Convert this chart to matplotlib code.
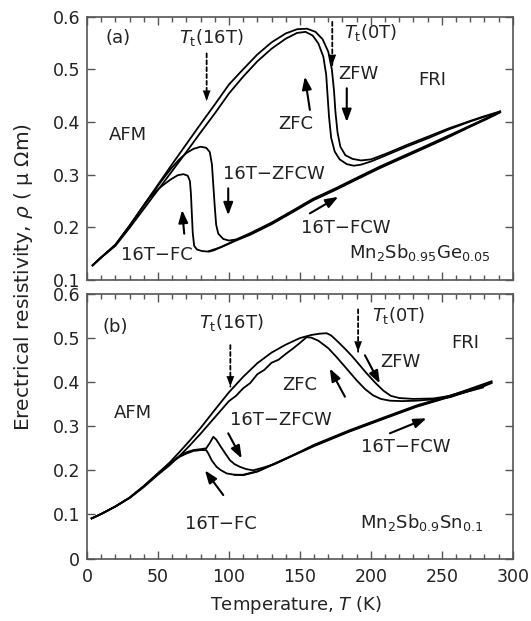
import matplotlib
matplotlib.use("Agg")
import matplotlib.pyplot as plt
from matplotlib.ticker import MultipleLocator

plt.rcParams["font.family"] = ["DejaVu Sans"]
plt.rcParams["mathtext.default"] = "regular"

# ---------------- panel (a): Mn2Sb0.95Ge0.05 ----------------
a_zfw_T = [4, 10, 20, 30, 40, 50, 60, 70, 80, 90, 100, 110, 120, 130, 140, 148, 155, 161, 166,
           170, 172.5, 174, 175, 176.5, 178.5, 182, 187, 193, 200, 210, 225, 241, 255, 270, 280, 291]
a_zfw_r = [.128, .143, .167, .203, .242, .281, .320, .358, .396, .433, .471, .500, .528, .551, .568,
           .576, .577, .571, .557, .533, .50, .46, .42, .38, .353, .337, .330, .327, .329, .339,
           .356, .373, .388, .402, .411, .420]

a_zfc_T = [4, 10, 20, 30, 40, 50, 60, 70, 80, 90, 100, 110, 120, 130, 140, 148, 154, 159, 163,
           166.5, 168.5, 169.5, 170.5, 172, 174.5, 178, 183, 188, 193, 200, 210, 225, 241, 255, 270, 280, 291]
a_zfc_r = [.128, .143, .165, .199, .235, .271, .307, .343, .380, .416, .454, .486, .515, .539, .558,
           .569, .571, .564, .549, .524, .49, .45, .41, .37, .344, .329, .320, .317, .319, .325,
           .336, .353, .370, .386, .401, .410, .419]

a_fc_T = [291, 282, 270, 253, 235, 220, 206, 190, 175, 159, 145, 130, 115, 105, 97, 90, 86, 81,
          77.5, 75.5, 74.5, 73.8, 73.2, 72.5, 71, 68, 64, 59, 54, 49, 44, 40, 35, 30, 20, 10, 4]
a_fc_r = [.419, .407, .392, .370, .348, .330, .313, .292, .272, .252, .230, .207, .187, .176, .166,
          .157, .154, .155, .158, .165, .19, .23, .265, .288, .298, .301, .299, .291, .281, .270,
          .256, .242, .222, .203, .166, .143, .128]

a_zfcw_T = [4, 10, 20, 30, 40, 50, 55, 60, 65, 70, 75, 80, 84, 86.5, 88, 89, 90, 91, 92.5, 96, 100,
            105, 115, 130, 145, 159, 175, 190, 206, 220, 235, 253, 270, 282, 291]
a_zfcw_r = [.128, .143, .167, .203, .241, .279, .297, .314, .329, .341, .349, .353, .351, .343, .32,
            .28, .24, .205, .188, .178, .175, .177, .189, .209, .232, .254, .274, .294, .315, .332,
            .350, .372, .393, .408, .420]

a_fcw_T = [86, 95, 105, 115, 130, 145, 159, 175, 190, 206, 220, 235, 253, 270, 282, 291]
a_fcw_r = [.155, .163, .175, .186, .206, .229, .251, .271, .291, .312, .329, .347, .369, .391, .406, .418]

# ---------------- panel (b): Mn2Sb0.9Sn0.1 ----------------
b_zfw_T = [3.3, 10, 20, 30, 40, 50, 58, 65, 72, 80, 90, 100, 110, 120, 130, 140, 150, 158, 164,
           168.8, 172, 177, 182, 187, 192, 197, 203, 208.7, 214, 220, 230, 244, 256, 270, 285]
b_zfw_r = [.091, .101, .118, .138, .164, .193, .217, .241, .266, .296, .337, .377, .412, .443, .467,
           .485, .500, .507, .510, .511, .506, .491, .475, .458, .439, .420, .399, .381, .369, .364,
           .362, .363, .369, .385, .402]

b_zfc_T = [3.3, 10, 20, 30, 40, 50, 58, 65, 72, 80, 90, 100, 105, 110, 115, 120, 125, 130, 135, 140,
           145, 150, 154.7, 158, 163, 170, 175.8, 182, 190, 196, 201.6, 207, 213.4, 222, 232, 244, 256, 270, 285]
b_zfc_r = [.091, .101, .118, .137, .162, .190, .211, .232, .255, .283, .320, .357, .369, .386, .398,
           .418, .428, .444, .451, .464, .476, .489, .502, .501, .494, .477, .457, .434, .404, .384,
           .370, .362, .358, .357, .358, .361, .366, .382, .399]

b_fc_T = [285, 279, 255, 232, 210, 185, 160, 138, 120, 110, 104, 98.4, 94, 91.3, 88, 85.5, 84, 80,
          75, 70, 65.5, 61, 58.5, 51.4, 40, 30, 20, 10, 3.3]
b_fc_r = [.398, .390, .366, .344, .318, .288, .255, .223, .197, .189, .190, .193, .201, .208, .222,
          .238, .246, .246, .244, .238, .231, .222, .216, .197, .164, .138, .118, .101, .091]

b_zfcw_T = [3.3, 10, 20, 30, 40, 51.4, 58.5, 62, 65.5, 70, 75, 80, 84, 86.5, 89, 91, 94, 97.5, 100.7,
            104, 107.7, 112, 117, 125, 132, 140, 160, 185, 210, 232, 255, 279]
b_zfcw_r = [.091, .101, .118, .138, .164, .197, .216, .225, .233, .241, .246, .248, .250, .262, .276,
            .270, .255, .238, .223, .214, .208, .203, .200, .207, .214, .226, .258, .291, .321, .347,
            .369, .392]

b_fcw_T = [104, 110, 120, 138, 160, 185, 210, 232, 255, 279]
b_fcw_r = [.190, .190, .198, .224, .256, .289, .319, .345, .367, .388]

xticks = [0, 50, 100, 150, 200, 250, 300]
yticks_a = [0.1, 0.2, 0.3, 0.4, 0.5, 0.6]
yticks_b = [0, 0.1, 0.2, 0.3, 0.4, 0.5, 0.6]

TXT = "#222222"
FS = 13

fig = plt.figure(figsize=(5.31, 6.21), dpi=100)
ax_a = fig.add_axes([0.1638, 0.549, 0.802, 0.4243])
ax_b = fig.add_axes([0.1638, 0.1006, 0.802, 0.426])


def style(ax, yticks, ylim, show_x):
    ax.set_xlim(0, 300)
    ax.set_ylim(*ylim)
    ax.set_xticks(xticks)
    ax.set_yticks(yticks)
    ax.set_yticklabels(["0" if v == 0 else f"{v:.1f}" for v in yticks])
    ax.xaxis.set_minor_locator(MultipleLocator(10))
    ax.tick_params(which="both", direction="in", top=True, right=True, colors="#555555",
                   labelcolor=TXT, labelsize=12.5)
    ax.tick_params(which="major", length=6, width=1)
    ax.tick_params(which="minor", length=3.5, width=1)
    ax.tick_params(axis="y", pad=5)
    ax.tick_params(axis="x", pad=7)
    if not show_x:
        ax.set_xticklabels([])
    for s in ax.spines.values():
        s.set_color("#555555")
        s.set_linewidth(1.2)


HEAD = "-|>,head_length=0.75,head_width=0.28"


def arrow(ax, start, end, dashed=False):
    if dashed:
        ax.annotate("", xy=end, xytext=start,
                    arrowprops=dict(arrowstyle="-", lw=1.3, color="black", linestyle=(0, (2.2, 1.6)),
                                    shrinkA=0, shrinkB=0))
        head_start = (end[0], end[1] + (start[1] - end[1]) * 0.3)
        ax.annotate("", xy=end, xytext=head_start,
                    arrowprops=dict(arrowstyle=HEAD, lw=0.01, color="black",
                                    shrinkA=0, shrinkB=0, mutation_scale=10))
    else:
        ax.annotate("", xy=end, xytext=start,
                    arrowprops=dict(arrowstyle=HEAD, lw=1.5, color="black",
                                    shrinkA=0, shrinkB=0, mutation_scale=10))


def label(ax, x, y, s, ha="center"):
    ax.text(x, y, s, ha=ha, va="center", fontsize=FS, color=TXT)


# panel (a)
for T, r in [(a_zfw_T, a_zfw_r), (a_zfc_T, a_zfc_r), (a_fc_T, a_fc_r),
             (a_zfcw_T, a_zfcw_r), (a_fcw_T, a_fcw_r)]:
    ax_a.plot(T, r, color="black", lw=1.3)
style(ax_a, yticks_a, (0.1, 0.6), False)

label(ax_a, 22, 0.559, "(a)")
label(ax_a, 88, 0.561, r"$\mathit{T}_{\rm t}$(16T)")
arrow(ax_a, (84.3, 0.530), (84.3, 0.440), dashed=True)
label(ax_a, 200, 0.569, r"$\mathit{T}_{\rm t}$(0T)")
arrow(ax_a, (172.8, 0.590), (172.8, 0.508), dashed=True)
label(ax_a, 191.5, 0.491, "ZFW")
arrow(ax_a, (183, 0.464), (183, 0.40))
label(ax_a, 243, 0.479, "FRI")
label(ax_a, 147, 0.397, "ZFC")
arrow(ax_a, (157, 0.423), (153.5, 0.486))
label(ax_a, 29, 0.375, "AFM")
label(ax_a, 131.8, 0.302, "16T\u2212ZFCW")
arrow(ax_a, (99.5, 0.274), (99.5, 0.223))
label(ax_a, 182, 0.198, "16T\u2212FCW")
arrow(ax_a, (157, 0.2265), (177, 0.258))
label(ax_a, 49, 0.147, "16T\u2212FC")
arrow(ax_a, (68.5, 0.188), (67, 0.233))
label(ax_a, 284, 0.152, r"Mn$_2$Sb$_{0.95}$Ge$_{0.05}$", ha="right")

# panel (b)
for T, r in [(b_zfw_T, b_zfw_r), (b_zfc_T, b_zfc_r), (b_fc_T, b_fc_r),
             (b_zfcw_T, b_zfcw_r), (b_fcw_T, b_fcw_r)]:
    ax_b.plot(T, r, color="black", lw=1.3)
style(ax_b, yticks_b, (0, 0.6), True)

label(ax_b, 19.7, 0.526, "(b)")
label(ax_b, 102, 0.536, r"$\mathit{T}_{\rm t}$(16T)")
arrow(ax_b, (101, 0.484), (101, 0.39), dashed=True)
label(ax_b, 219.7, 0.552, r"$\mathit{T}_{\rm t}$(0T)")
arrow(ax_b, (191, 0.565), (191, 0.469), dashed=True)
label(ax_b, 221, 0.446, "ZFW")
arrow(ax_b, (195.8, 0.461), (206.3, 0.397))
label(ax_b, 266.8, 0.488, "FRI")
label(ax_b, 150, 0.393, "ZFC")
arrow(ax_b, (181.7, 0.367), (171, 0.431))
label(ax_b, 32.6, 0.329, "AFM")
label(ax_b, 136.5, 0.314, "16T\u2212ZFCW")
arrow(ax_b, (99.5, 0.284), (109, 0.227))
label(ax_b, 224.5, 0.2535, "16T\u2212FCW")
arrow(ax_b, (213.4, 0.284), (239.2, 0.318))
label(ax_b, 94.4, 0.079, "16T\u2212FC")
arrow(ax_b, (96, 0.144), (83.1, 0.2))
label(ax_b, 279, 0.082, r"Mn$_2$Sb$_{0.9}$Sn$_{0.1}$", ha="right")

fig.text(24 / 531, 1 - 277 / 621, r"Erectrical resistivity, $\mathit{\rho}$ ( μ Ωm)",
         rotation=90, ha="center", va="center", fontsize=14.5, color=TXT)
fig.text(0.557, 0.026, r"Temperature, $\mathit{T}$ (K)", ha="center", va="center",
         fontsize=FS, color=TXT)

fig.savefig("out.png", dpi=100)
